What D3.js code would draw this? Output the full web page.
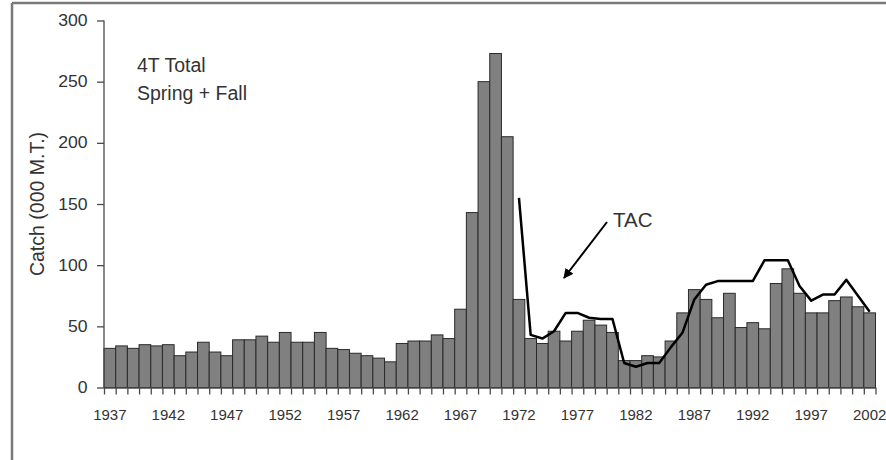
<!DOCTYPE html>
<html>
<head>
<meta charset="utf-8">
<script src="https://cdn.jsdelivr.net/npm/d3@7"></script>
<style>
  body { margin: 0; background: #fff; }
  text { font-family: "Liberation Sans", Arial, sans-serif; fill: #333; }
</style>
</head>
<body>
<div id="chart"></div>
<script>
// catch per year (000 M.T.), 4T total spring + fall
const years = d3.range(1937, 2003);
const catchValues = [
  32, 34, 32, 35, 34, 35, 26, 29, 37, 29,   // 1937-1946
  26, 39, 39, 42, 37, 45, 37, 37, 45, 32,   // 1947-1956
  31, 28, 26, 24, 21, 36, 38, 38, 43, 40,   // 1957-1966
  64, 143, 250, 273, 205, 72, 40, 36, 46, 38, // 1967-1976
  46, 55, 51, 45, 22, 22, 26, 25, 38, 61,   // 1977-1986
  80, 72, 57, 77, 49, 53, 48, 85, 97, 77,   // 1987-1996
  61, 61, 71, 74, 66, 61                    // 1997-2002
];
// TAC from 1972
const tacYears = d3.range(1972, 2003);
const tacValues = [
  155, 43, 40, 46, 61, 61, 57, 56, 56, 20,
  17, 20, 20, 33, 45, 72, 84, 87, 87, 87,
  87, 104, 104, 104, 83, 71, 76, 76, 88, 75,
  62
];
const yTicks = [0, 50, 100, 150, 200, 250, 300];
const labelYears = d3.range(1937, 2003, 5);

const svg = d3.select("#chart")
  .append("svg")
  .attr("width", 886)
  .attr("height", 460);

// outer frame (top and left edges only are visible)
svg.append("line")
  .attr("x1", 12).attr("x2", 886).attr("y1", 3).attr("y2", 3)
  .style("stroke", "#7a7a7a").style("stroke-width", 2.5);
svg.append("line")
  .attr("x1", 12).attr("x2", 12).attr("y1", 3).attr("y2", 460)
  .style("stroke", "#7a7a7a").style("stroke-width", 2.5);

let plotLeft = 104, plotRight = 875.5, plotTop = 20.5, plotBottom = 387.5;

let xScale = d3.scaleBand()
  .domain(years)
  .range([plotLeft, plotRight])
  .padding(0);

// linear version for the year boundary ticks
let xEdge = d3.scaleLinear()
  .domain([1937, 2003])
  .range([plotLeft, plotRight]);

let yScale = d3.scaleLinear()
  .domain([0, 300])
  .range([plotBottom, plotTop]);

// bars
svg.selectAll("rect.bar")
  .data(years)
  .enter()
  .append("rect")
  .attr("class", "bar")
  .attr("x", d => xScale(d))
  .attr("y", (d, i) => yScale(catchValues[i]))
  .attr("width", xScale.bandwidth())
  .attr("height", (d, i) => plotBottom - yScale(catchValues[i]))
  .style("fill", "#808080")
  .style("stroke", "#2a2a2a")
  .style("stroke-width", 1);

// TAC line
let tacLine = d3.line()
  .x(d => xScale(d) + xScale.bandwidth() / 2)
  .y((d, i) => yScale(tacValues[i]));

svg.append("path")
  .datum(tacYears)
  .attr("fill", "none")
  .attr("stroke", "#000")
  .attr("stroke-width", 2.5)
  .attr("stroke-linejoin", "round")
  .attr("d", tacLine);

// y axis
let yAxis = d3.axisLeft(yScale)
  .tickValues(yTicks)
  .tickSize(7)
  .tickPadding(8);
let gy = svg.append("g")
  .attr("transform", `translate(${plotLeft}, 0)`)
  .call(yAxis);
gy.select(".domain").attr("d", `M0,${plotTop}V${plotBottom}`);

// x axis: tick at every year boundary
let edgeAxis = d3.axisBottom(xEdge)
  .tickValues(d3.range(1937, 2004))
  .tickFormat("")
  .tickSize(7)
  .tickSizeOuter(0);
svg.append("g")
  .attr("transform", `translate(0, ${plotBottom})`)
  .call(edgeAxis);

// x labels every 5 years, under the bar centres
let labelAxis = d3.axisBottom(xScale)
  .tickValues(labelYears)
  .tickSize(0)
  .tickPadding(21);
let gx = svg.append("g")
  .attr("transform", `translate(0, ${plotBottom})`)
  .call(labelAxis);
gx.select(".domain").remove();

svg.selectAll(".domain, .tick line")
  .style("stroke", "#4a4a4a")
  .style("stroke-width", 1.3);
gy.selectAll(".tick text")
  .style("font-size", "16px")
  .style("fill", "#333")
  .attr("transform", "scale(1.1,1)");
gx.selectAll(".tick text")
  .style("font-size", "15px")
  .style("fill", "#333")
  .attr("dy", null)
  .attr("y", 32);

// axis title
svg.append("text")
  .attr("transform", "translate(44, 204) rotate(-90)")
  .attr("text-anchor", "middle")
  .style("font-size", "19.5px")
  .text("Catch (000 M.T.)");

// annotations
svg.append("text")
  .attr("x", 137).attr("y", 72)
  .style("font-size", "19.5px")
  .text("4T Total");
svg.append("text")
  .attr("x", 137).attr("y", 100)
  .style("font-size", "19.5px")
  .text("Spring + Fall");
svg.append("text")
  .attr("x", 613).attr("y", 227)
  .style("font-size", "20.5px")
  .text("TAC");

// arrow pointing to the TAC line
svg.append("defs").append("marker")
  .attr("id", "head")
  .attr("viewBox", "0 0 10 10")
  .attr("refX", 9).attr("refY", 5)
  .attr("markerWidth", 5).attr("markerHeight", 5)
  .attr("orient", "auto")
  .append("path")
  .attr("d", "M0,0L10,5L0,10z")
  .style("fill", "#000");

svg.append("line")
  .attr("x1", 607).attr("y1", 222)
  .attr("x2", 564).attr("y2", 278)
  .style("stroke", "#000")
  .style("stroke-width", 2)
  .attr("marker-end", "url(#head)");
</script>
</body>
</html>
